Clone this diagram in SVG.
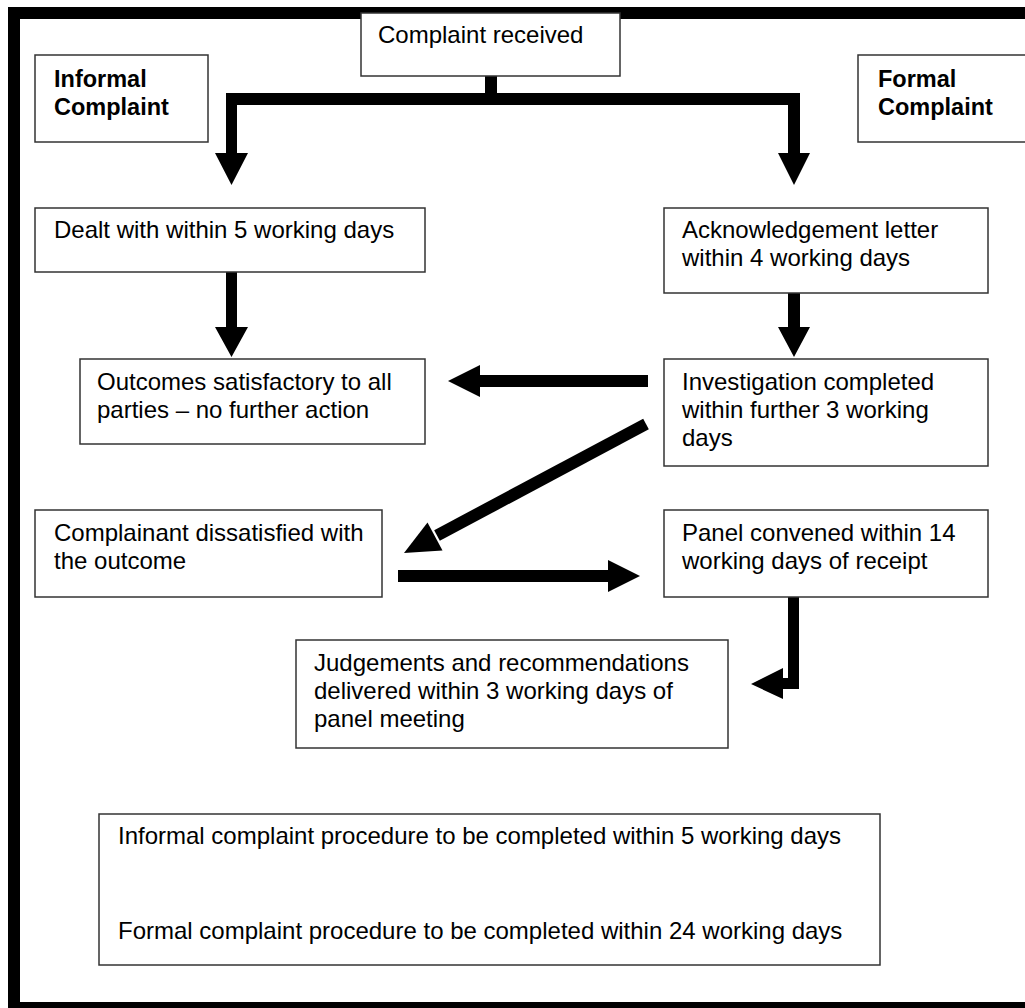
<svg xmlns="http://www.w3.org/2000/svg" width="1025" height="1008" viewBox="0 0 1025 1008">
<style>
.box{fill:#fff;stroke:#333;stroke-width:1.5}
text{font-family:"Liberation Sans",Arial,sans-serif;font-size:24px;fill:#000}
.b{font-weight:bold;font-size:23.5px}
.arr{fill:#000;stroke:none}
</style>
<rect x="0" y="0" width="1025" height="1008" fill="#fff"/>
<rect x="14" y="13" width="1100" height="995" fill="none" stroke="#000" stroke-width="12"/>
<g id="connectors">
<path class="arr" d="M485,76H497V93H800V153H810L794,185L778,153H788V105H237V153H248L231.5,185L215,153H226V93H485Z"/>
<path class="arr" d="M226,267H237V327H248L231.5,357L215,327H226Z"/>
<path class="arr" d="M788,288H800V327H810L794,357L778,327H788Z"/>
<path class="arr" d="M648,375V387H480V397L448,381L480,365V375Z"/>
<line x1="646" y1="424" x2="437" y2="535.5" stroke="#000" stroke-width="12"/>
<polygon class="arr" points="404,553 427.5,522.4 442.5,550.6"/>
<path class="arr" d="M398,570H608V560L640,576L608,592V582H398Z"/>
<path class="arr" d="M788,592H799V689H783V699L751,684L783,668V678H788Z"/>
</g>
<g id="received"><rect class="box" x="361" y="13" width="259" height="63"/><text x="378" y="43">Complaint received</text></g>
<g id="informal"><rect class="box" x="35" y="55" width="173" height="87"/><text class="b" x="54" y="87">Informal</text><text class="b" x="54" y="115">Complaint</text></g>
<g id="formal"><rect class="box" x="858" y="55" width="180" height="87"/><text class="b" x="878" y="87">Formal</text><text class="b" x="878" y="115">Complaint</text></g>
<g id="dealt"><rect class="box" x="35" y="208" width="390" height="64"/><text x="54" y="238">Dealt with within 5 working days</text></g>
<g id="ack"><rect class="box" x="664" y="208" width="324" height="85"/><text x="682" y="238">Acknowledgement letter</text><text x="682" y="266">within 4 working days</text></g>
<g id="outcomes"><rect class="box" x="80" y="359" width="345" height="85"/><text x="97" y="390">Outcomes satisfactory to all</text><text x="97" y="418">parties – no further action</text></g>
<g id="investigation"><rect class="box" x="664" y="359" width="324" height="107"/><text x="682" y="390">Investigation completed</text><text x="682" y="418">within further 3 working</text><text x="682" y="446">days</text></g>
<g id="dissatisfied"><rect class="box" x="35" y="510" width="347" height="87"/><text x="54" y="541">Complainant dissatisfied with</text><text x="54" y="569">the outcome</text></g>
<g id="panel"><rect class="box" x="664" y="510" width="324" height="87"/><text x="682" y="541">Panel convened within 14</text><text x="682" y="569">working days of receipt</text></g>
<g id="judgements"><rect class="box" x="296" y="640" width="432" height="108"/><text x="314" y="671">Judgements and recommendations</text><text x="314" y="699">delivered within 3 working days of</text><text x="314" y="727">panel meeting</text></g>
<g id="summary"><rect class="box" x="99" y="814" width="781" height="151"/><text x="118" y="844">Informal complaint procedure to be completed within 5 working days</text><text x="118" y="939">Formal complaint procedure to be completed within 24 working days</text></g>
</svg>
